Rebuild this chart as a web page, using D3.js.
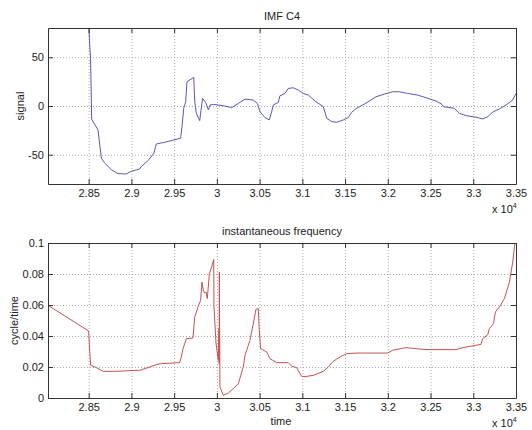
<!DOCTYPE html>
<html>
<head>
<meta charset="utf-8">
<script src="https://cdn.jsdelivr.net/npm/d3@7"></script>
<style>
  body { margin: 0; background: #fff; }
  text { font-family: "Liberation Sans", Arial, sans-serif; fill: #222; }
</style>
</head>
<body>
<div id="chart"></div>
<script>
// x ticks shared by both panels (time, shown as x 10^4)
var xTicks = [28500, 29000, 29500, 30000, 30500, 31000, 31500, 32000, 32500, 33000, 33500];
var xTickLabels = ["2.85", "2.9", "2.95", "3", "3.05", "3.1", "3.15", "3.2", "3.25", "3.3", "3.35"];

// y ticks, top panel
var sigTicks = [-50, 0, 50];
var sigTickLabels = ["-50", "0", "50"];

// y ticks, bottom panel
var freqTicks = [0, 0.02, 0.04, 0.06, 0.08, 0.1];
var freqTickLabels = ["0", "0.02", "0.04", "0.06", "0.08", "0.1"];

// IMF C4 signal
var sigTime = [28500, 28512, 28522, 28535, 28609, 28648, 28687, 28765, 28843, 28940, 28999, 29097, 29116, 29194,
  29264, 29291, 29428, 29576, 29592, 29612, 29635, 29650, 29729, 29741, 29760, 29799, 29832, 29868, 29900,
  29920, 29958, 30075, 30173, 30251, 30329, 30426, 30473, 30504, 30563, 30613, 30641, 30660, 30718, 30738,
  30797, 30836, 30894, 30953, 31011, 31070, 31148, 31245, 31285, 31343, 31402, 31479, 31538, 31577, 31640,
  31706, 31784, 31862, 31959, 32057, 32134, 32232, 32349, 32447, 32564, 32634, 32650, 32779, 32838, 32917,
  33034, 33112, 33170, 33234, 33304, 33383, 33461, 33500];
var sigValue = [85, 62, 50, -13.6, -24.5, -53.4, -58.5, -65.3, -69.4, -69.7, -67, -64.6, -62, -56,
  -48.3, -39, -36.4, -33, -21, -2.4, 4.4, 24.8, 29.3, 4.4, -7.5, -15, 7.8, 3.7, -4,
  1, 1.7, 0.3, -1.7, 2.7, 7.1, 6.1, 2.7, -5.8, -11.9, -14.3, -5.8, 1, 3.7, 10.5,
  12.9, 18, 18.7, 16.3, 12.9, 11.2, 5.1, -0.7, -12.6, -16, -16.7, -14.3, -11.9, -6.5, -2,
  1, 5.1, 9.5, 12.2, 14.6, 14.6, 12.9, 11.2, 8.5, 5.1, 1.7, -0.7, -2.4, -7.5, -9.9,
  -11.5, -13.3, -10.9, -5.8, -3.1, 1, 6.1, 12.9];

// instantaneous frequency
var freqTime = [28024, 28500, 28507, 28523, 28590, 28668, 28805, 29097, 29194, 29291, 29350, 29565, 29584,
  29604, 29643, 29720, 29741, 29779, 29810, 29826, 29841, 29857, 29873, 29888, 29912, 29939, 29963, 29966,
  29990, 30017, 30025, 30027, 30029, 30036, 30075, 30134, 30192, 30251, 30309, 30329, 30387, 30434, 30457,
  30484, 30496, 30512, 30583, 30621, 30699, 30836, 30875, 30933, 30992, 31031, 31128, 31245, 31303, 31362,
  31440, 31518, 31640, 31999, 32057, 32213, 32447, 32798, 32876, 33090, 33110, 33170, 33189, 33236, 33259,
  33306, 33364, 33423, 33462, 33495];
var freqValue = [0.0598, 0.0432, 0.035, 0.0211, 0.0196, 0.0172, 0.0172, 0.0179, 0.0196, 0.0215, 0.0222, 0.0228, 0.0265,
  0.0319, 0.0383, 0.0387, 0.0523, 0.0587, 0.063, 0.0748, 0.0695, 0.0677, 0.0684, 0.0641, 0.0803, 0.0845, 0.0893, 0.0587,
  0.0351, 0.0243, 0.0448, 0.0222, 0.0813, 0.0071, 0.0017, 0.0032, 0.006, 0.0093, 0.02, 0.0275, 0.0372, 0.0501, 0.0572,
  0.0577, 0.0437, 0.0319, 0.0297, 0.0254, 0.0228, 0.0228, 0.0205, 0.0196, 0.014, 0.0138, 0.0146, 0.0172, 0.02, 0.0237,
  0.0265, 0.0286, 0.029, 0.029, 0.0308, 0.0325, 0.0312, 0.0312, 0.0325, 0.0346, 0.0383, 0.0409, 0.0448, 0.048, 0.0555,
  0.0587, 0.0641, 0.0748, 0.0877, 0.104];

var W = 532, H = 430;
var svg = d3.select("#chart").append("svg")
    .attr("width", W)
    .attr("height", H);

var left = 48, right = 516;
var x = d3.scaleLinear().domain([28024, 33500]).range([left, right]);

function panel(opts) {
  var y = d3.scaleLinear().domain(opts.domain).range([opts.bottom, opts.top]);
  var g = svg.append("g");
  var h = opts.bottom - opts.top;

  // grid
  g.append("g")
    .attr("transform", "translate(0," + opts.bottom + ")")
    .call(d3.axisBottom(x).tickValues(xTicks).tickSize(-h).tickFormat(""))
    .call(function(s) {
      s.select(".domain").remove();
      s.selectAll("line").attr("stroke", "#aaa").attr("stroke-dasharray", "1,2");
    });
  g.append("g")
    .attr("transform", "translate(" + left + ",0)")
    .call(d3.axisLeft(y).tickValues(opts.ticks).tickSize(-(right - left)).tickFormat(""))
    .call(function(s) {
      s.select(".domain").remove();
      s.selectAll("line").attr("stroke", "#aaa").attr("stroke-dasharray", "1,2");
    });

  // clip
  svg.append("clipPath").attr("id", opts.id)
    .append("rect")
      .attr("x", left).attr("y", opts.top)
      .attr("width", right - left).attr("height", h);

  g.append("path")
    .datum(d3.zip(opts.xs, opts.ys))
    .attr("clip-path", "url(#" + opts.id + ")")
    .attr("fill", "none")
    .attr("stroke", opts.color)
    .attr("stroke-width", 1)
    .attr("d", d3.line()
      .x(function(d) { return x(d[0]); })
      .y(function(d) { return y(d[1]); }));

  // axes with inward ticks on all four sides
  function style(s) {
    s.select(".domain").attr("stroke", "#333");
    s.selectAll(".tick line").attr("stroke", "#333");
    s.selectAll("text").attr("font-size", 11).attr("fill", "#222")
      .attr("font-family", "Liberation Sans, Arial, sans-serif");
  }
  g.append("g")
    .attr("transform", "translate(0," + opts.bottom + ")")
    .call(d3.axisBottom(x).tickValues(xTicks).tickSizeInner(-5).tickSizeOuter(0).tickPadding(5)
      .tickFormat(function(d, i) { return xTickLabels[i]; }))
    .call(style);
  g.append("g")
    .attr("transform", "translate(0," + opts.top + ")")
    .call(d3.axisTop(x).tickValues(xTicks).tickSizeInner(-5).tickSizeOuter(0).tickFormat(""))
    .call(style);
  g.append("g")
    .attr("transform", "translate(" + left + ",0)")
    .call(d3.axisLeft(y).tickValues(opts.ticks).tickSizeInner(-5).tickSizeOuter(0).tickPadding(4)
      .tickFormat(function(d, i) { return opts.labels[i]; }))
    .call(style);
  g.append("g")
    .attr("transform", "translate(" + right + ",0)")
    .call(d3.axisRight(y).tickValues(opts.ticks).tickSizeInner(-5).tickSizeOuter(0).tickFormat(""))
    .call(style);

  // title
  g.append("text")
    .attr("x", (left + right) / 2).attr("y", opts.top - 8)
    .attr("text-anchor", "middle").attr("font-size", 11)
    .text(opts.title);

  // y label
  g.append("text")
    .attr("transform", "translate(" + opts.ylabelX + "," + (opts.top + opts.bottom) / 2 + ") rotate(-90)")
    .attr("text-anchor", "middle").attr("font-size", 11)
    .text(opts.ylabel);

  // x 10^4
  var ex = g.append("text")
    .attr("x", 492).attr("y", opts.bottom + 29)
    .attr("font-size", 11);
  ex.append("tspan").text("x 10");
  ex.append("tspan").attr("font-size", 7).attr("dy", -5).text("4");
  return y;
}

panel({
  id: "clipTop", top: 28, bottom: 184, domain: [-80, 80],
  ticks: sigTicks, labels: sigTickLabels,
  xs: sigTime, ys: sigValue, color: "#5858bb",
  title: "IMF C4", ylabel: "signal", ylabelX: 24
});

panel({
  id: "clipBot", top: 243, bottom: 398, domain: [0, 0.1],
  ticks: freqTicks, labels: freqTickLabels,
  xs: freqTime, ys: freqValue, color: "#c85050",
  title: "instantaneous frequency", ylabel: "cycle/time", ylabelX: 18
});

svg.append("text")
  .attr("x", 281).attr("y", 425)
  .attr("text-anchor", "middle").attr("font-size", 11)
  .text("time");
</script>
</body>
</html>
